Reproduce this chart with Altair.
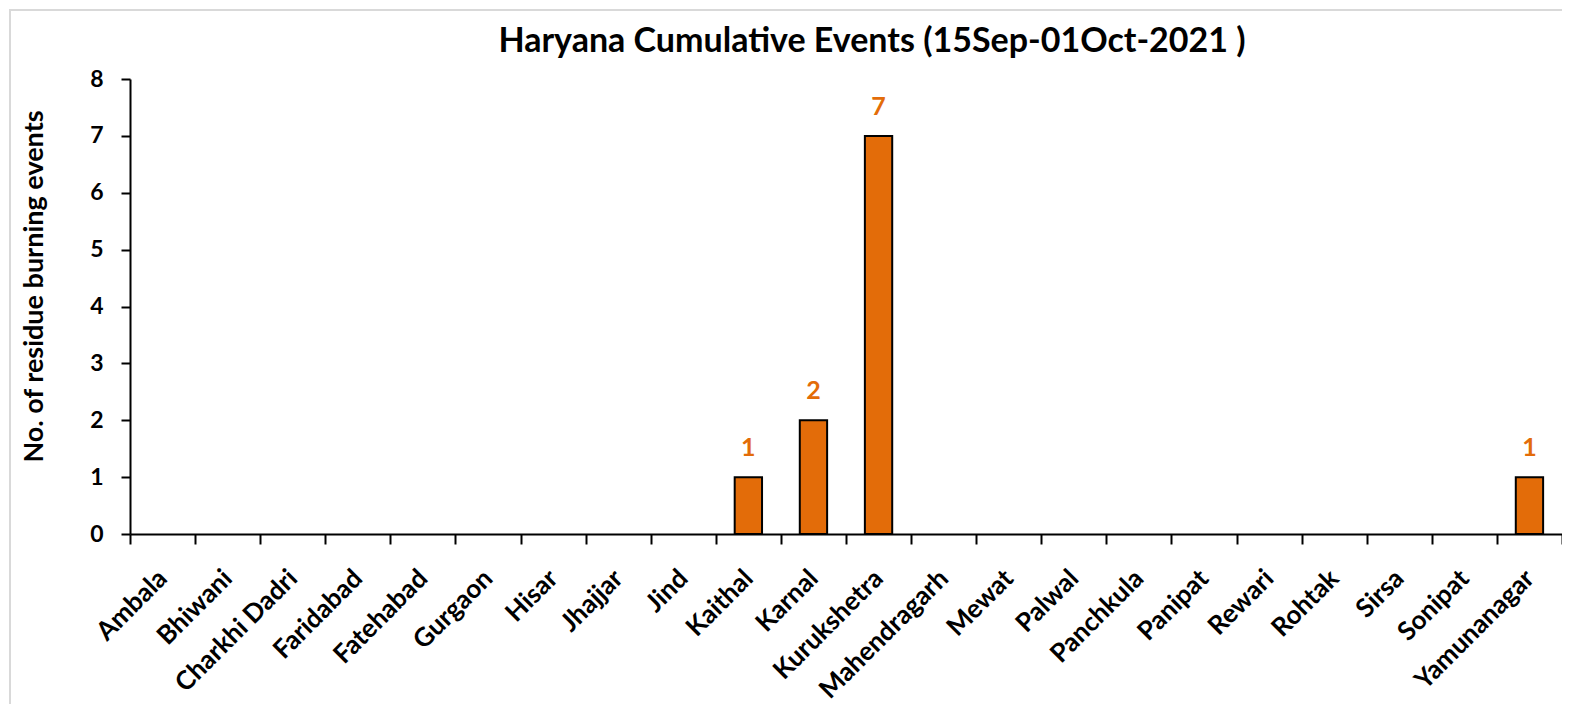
import altair as alt
import pandas as pd

districts = ["Ambala", "Bhiwani", "Charkhi Dadri", "Faridabad", "Fatehabad", "Gurgaon",
             "Hisar", "Jhajjar", "Jind", "Kaithal", "Karnal", "Kurukshetra", "Mahendragarh",
             "Mewat", "Palwal", "Panchkula", "Panipat", "Rewari", "Rohtak", "Sirsa",
             "Sonipat", "Yamunanagar"]
events = [0, 0, 0, 0, 0, 0, 0, 0, 0, 1, 2, 7, 0, 0, 0, 0, 0, 0, 0, 0, 0, 1]

df = pd.DataFrame({"district": districts, "events": events})
df["label"] = [str(v) if v > 0 else "" for v in events]

FONT = "Lato"
ORANGE = "#E36C09"
W, H = 1432, 455

x = alt.X("district:N", sort=districts, title=None,
          scale=alt.Scale(paddingInner=0, paddingOuter=0),
          axis=alt.Axis(labelAngle=-45, labelAlign="right", labelBaseline="middle",
                        tickBand="extent", tickSize=10, labelPadding=30,
                        labelFontSize=26, labelFontWeight="bold", labelColor="black",
                        domainColor="black", tickColor="black", domainWidth=2, tickWidth=2,
                        labelFont=FONT, labelOverlap=False))

bars = alt.Chart(df).mark_bar(strokeWidth=2, width=alt.RelativeBandSize(0.42)).encode(
    x=x,
    y=alt.Y("events:Q", title="No. of residue burning events",
            scale=alt.Scale(domain=[0, 8]),
            axis=alt.Axis(values=[0, 1, 2, 3, 4, 5, 6, 7, 8], format="d", grid=False,
                          tickSize=9, labelPadding=18, labelFontSize=23,
                          labelFontWeight="bold", labelColor="black",
                          domainColor="black", tickColor="black",
                          domainWidth=2, tickWidth=2, labelFont=FONT,
                          titleFont=FONT, titleFontSize=27, titleFontWeight="bold",
                          titleColor="black", titlePadding=41, titleY=207)),
    color=alt.value(ORANGE),
    stroke=alt.condition("datum.events > 0", alt.value("black"), alt.value("transparent")),
)

labels = alt.Chart(df).mark_text(color=ORANGE, fontSize=25, fontWeight="bold", font=FONT,
                                 baseline="middle", dy=-29).encode(
    x=alt.X("district:N", sort=districts),
    y="events:Q",
    text="label:N",
)

frame = alt.Chart(df).mark_rect(fill=None, stroke="#D9D9D9", strokeWidth=2).encode(
    x=alt.value(-120), x2=alt.value(W + 30), y=alt.value(-69), y2=alt.value(H + 200),
)

chart = (frame + bars + labels).properties(
    width=W, height=H,
    title=alt.TitleParams("Haryana Cumulative Events (15Sep-01Oct-2021 )", font=FONT,
                          fontSize=34, fontWeight="bold", color="black", anchor="middle",
                          dx=26, offset=-50),
    autosize=alt.AutoSizeParams(type="none"),
    padding={"left": 122, "top": 71, "right": 0, "bottom": 170},
).configure_view(stroke=None)

chart.save("out.html", embed_options={"renderer": "svg", "actions": False})
